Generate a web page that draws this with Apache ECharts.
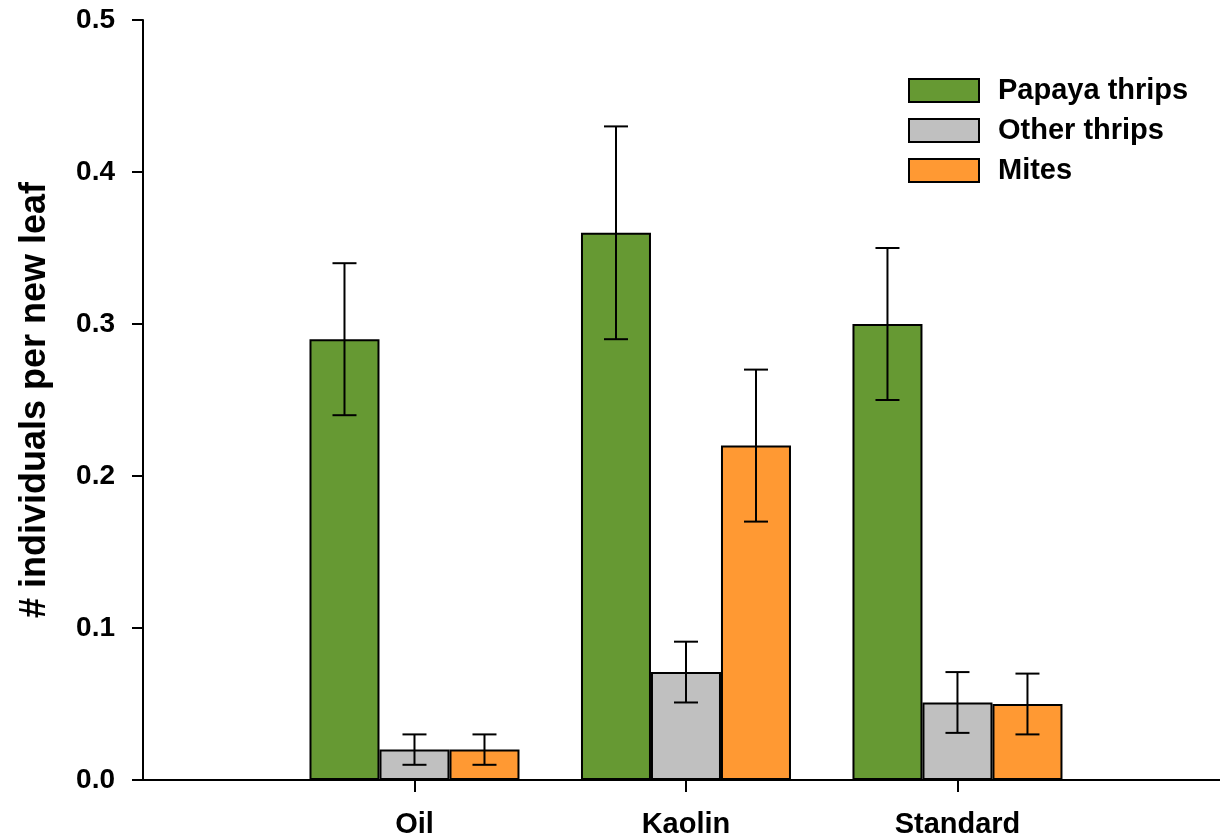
<!DOCTYPE html>
<html><head><meta charset="utf-8">
<script src="https://cdn.jsdelivr.net/npm/echarts@6/dist/echarts.min.js"></script>
<style>html,body{margin:0;padding:0;background:#fff}#c{width:1220px;height:840px}</style>
</head><body><div id="c"></div>
<script>
// ---- data ----
const categories = ['Oil', 'Kaolin', 'Standard'];
const seriesNames = ['Papaya thrips', 'Other thrips', 'Mites'];
const papaya = [0.29, 0.36, 0.30];
const papayaLow = [0.24, 0.29, 0.25];
const papayaHigh = [0.34, 0.43, 0.35];
const other = [0.02, 0.071, 0.051];
const otherLow = [0.01, 0.051, 0.031];
const otherHigh = [0.03, 0.091, 0.071];
const mites = [0.02, 0.22, 0.05];
const mitesLow = [0.01, 0.17, 0.03];
const mitesHigh = [0.03, 0.27, 0.07];
const yTicks = [0, 0.1, 0.2, 0.3, 0.4, 0.5];
const yTitle = '# individuals per new leaf';

// ---- styling ----
const FONT = "'Liberation Sans', Arial, sans-serif";
const colors = ['#669933', '#C0C0C0', '#FF9933'];
const BAR_W = 70;

const catPos = categories.map((c, i) => i + 1);

const values = [papaya, other, mites];
const lows = [papayaLow, otherLow, mitesLow];
const highs = [papayaHigh, otherHigh, mitesHigh];

const barSeries = values.map((v, k) => ({
  name: seriesNames[k],
  type: 'bar',
  data: v.map((y, i) => [catPos[i], y]),
  barWidth: BAR_W,
  barGap: '0%',
  itemStyle: { color: colors[k], borderColor: '#000', borderWidth: 2 },
  z: 2
}));

const errSeries = values.map((v, k) => ({
  type: 'custom',
  name: 'err' + k,
  z: 3,
  data: categories.map((c, i) => [catPos[i], lows[k][i], highs[k][i]]),
  renderItem: function (params, api) {
    const off = (k - 1) * BAR_W;
    const lo = api.coord([api.value(0), api.value(1)]);
    const hi = api.coord([api.value(0), api.value(2)]);
    const x = lo[0] + off;
    const cw = 12;
    const st = { stroke: '#000', lineWidth: 2 };
    return {
      type: 'group',
      children: [
        { type: 'line', shape: { x1: x, y1: lo[1], x2: x, y2: hi[1] }, style: st },
        { type: 'line', shape: { x1: x - cw, y1: hi[1], x2: x + cw, y2: hi[1] }, style: st },
        { type: 'line', shape: { x1: x - cw, y1: lo[1], x2: x + cw, y2: lo[1] }, style: st }
      ]
    };
  }
}));

const chart = echarts.init(document.getElementById('c'), null, { renderer: 'canvas' });
chart.setOption({
  animation: false,
  backgroundColor: '#fff',
  grid: { left: 143, top: 20, bottom: 60, right: 0, containLabel: false },
  legend: {
    data: seriesNames,
    orient: 'vertical',
    left: 903,
    top: 71,
    icon: 'rect',
    itemWidth: 70,
    itemHeight: 23,
    itemGap: 11,
    textStyle: { fontFamily: FONT, fontWeight: 'bold', fontSize: 29, color: '#000', lineHeight: 29, padding: [0, 0, 0, 14] }
  },
  xAxis: {
    type: 'value',
    min: 0,
    max: 3.967,
    interval: 1,
    axisLine: { onZero: false, lineStyle: { color: '#000', width: 2 } },
    axisTick: { show: true, length: 12, customValues: catPos, lineStyle: { color: '#000', width: 2 } },
    axisLabel: { fontFamily: FONT, fontWeight: 'bold', fontSize: 29, color: '#000', margin: 30,
      customValues: catPos,
      formatter: v => categories[Math.round(v) - 1] || '' },
    splitLine: { show: false }
  },
  yAxis: {
    type: 'value',
    min: yTicks[0],
    max: yTicks[yTicks.length - 1],
    interval: yTicks[1] - yTicks[0],
    name: yTitle,
    nameLocation: 'middle',
    nameGap: 90,
    nameRotate: 90,
    nameTextStyle: { fontFamily: FONT, fontWeight: 'bold', fontSize: 36, color: '#000' },
    axisLine: { show: true, lineStyle: { color: '#000', width: 2 } },
    axisTick: { show: true, length: 11, lineStyle: { color: '#000', width: 2 } },
    axisLabel: { fontFamily: FONT, fontWeight: 'bold', fontSize: 28, color: '#000', margin: 28,
      formatter: v => v.toFixed(1) },
    splitLine: { show: false }
  },
  series: barSeries.concat(errSeries)
});
</script></body></html>
